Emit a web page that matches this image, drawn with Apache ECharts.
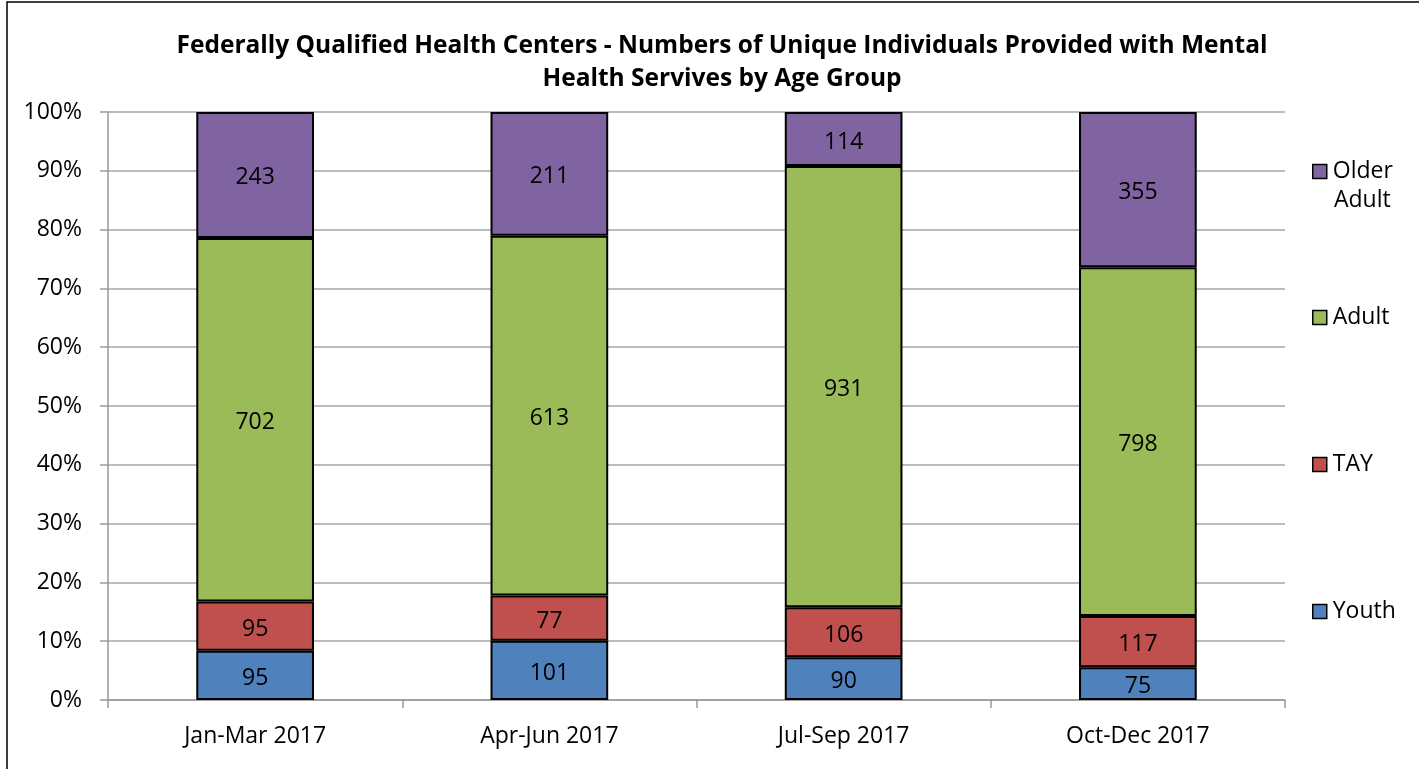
<!DOCTYPE html>
<html><head><meta charset="utf-8">
<script src="https://cdn.jsdelivr.net/npm/echarts@6/dist/echarts.min.js"></script>
<style>html,body{margin:0;padding:0;background:#fff}#c{width:1419px;height:769px}</style>
</head><body><div id="c"></div>
<script>
const categories = ['Jan-Mar 2017', 'Apr-Jun 2017', 'Jul-Sep 2017', 'Oct-Dec 2017'];
const youth = [95, 101, 90, 75];
const tay = [95, 77, 106, 117];
const adult = [702, 613, 931, 798];
const olderAdult = [243, 211, 114, 355];
const yTicks = ['0%','10%','20%','30%','40%','50%','60%','70%','80%','90%','100%'];

const FONT = '"Open Sans", Lato, sans-serif';
const totals = categories.map((_, i) => youth[i] + tay[i] + adult[i] + olderAdult[i]);
const pct = arr => arr.map((v, i) => ({ value: v / totals[i] * 100, raw: v }));

const colors = { 'Youth': '#4F81BD', 'TAY': '#C0504D', 'Adult': '#9BBB59', 'Older Adult': '#8064A2' };
const seriesDefs = [['Youth', youth], ['TAY', tay], ['Adult', adult], ['Older Adult', olderAdult]];

const chart = echarts.init(document.getElementById('c'), null, { renderer: 'canvas' });
const legendPos = { 'Older Adult': 160, 'Adult': 306, 'TAY': 453, 'Youth': 600 };
chart.setOption({
  animation: false,
  textStyle: { fontFamily: FONT },
  title: {
    text: 'Federally Qualified Health Centers - Numbers of Unique Individuals Provided with Mental\nHealth Servives by Age Group',
    left: 717, textAlign: 'center', top: 25,
    textStyle: { fontFamily: FONT, fontSize: 24.5, fontWeight: 'bold', color: '#000', lineHeight: 33 }
  },
  legend: Object.keys(legendPos).map(name => ({
    data: [name], left: 1312, top: legendPos[name], orient: 'vertical',
    icon: 'rect', itemWidth: 14, itemHeight: 14, itemGap: 0, selectedMode: false, padding: 0,
    formatter: n => n === 'Older Adult' ? 'Older' : n,
    textStyle: { fontFamily: FONT, fontSize: 23, color: '#000', lineHeight: 22, padding: [0, 0, 0, 1] },
    itemStyle: { borderColor: '#000', borderWidth: 1.5 }
  })),
  graphic: [
    { type: 'text', left: 1334, top: 189, style: { text: 'Adult', font: '23px ' + FONT, fill: '#000' } },
    { type: 'rect', shape: { x: 7, y: 2, width: 1500, height: 1000 }, style: { fill: 'none', stroke: '#000', lineWidth: 1.5 }, silent: true }
  ],
  grid: { left: 108, right: 134, top: 112, bottom: 69, containLabel: false },
  xAxis: {
    type: 'category', data: categories,
    axisLine: { lineStyle: { color: '#999', width: 1.5 } },
    axisTick: { show: true, length: 8, interval: 0, lineStyle: { color: '#999', width: 1.5 } },
    axisLabel: { fontFamily: FONT, fontSize: 23, color: '#000', margin: 25 },
    splitLine: { show: false }
  },
  yAxis: {
    type: 'value', min: 0, max: 100, interval: 10,
    axisLine: { show: true, lineStyle: { color: '#999', width: 1.5 } },
    axisTick: { show: true, length: 8, inside: false, lineStyle: { color: '#999', width: 1.5 } },
    axisLabel: { fontFamily: FONT, fontSize: 23, color: '#000', margin: 26, formatter: (v) => yTicks[Math.round(v / 10)] },
    splitLine: { show: true, lineStyle: { color: '#a6a6a6', width: 1.5 } }
  },
  series: seriesDefs.map(([name, arr]) => ({
    name, type: 'bar', stack: 'total', barWidth: '40%',
    data: pct(arr),
    itemStyle: { color: colors[name], borderColor: '#000', borderWidth: 2 },
    label: { show: true, position: 'inside', offset: [0, 3], fontFamily: FONT, fontSize: 23, color: '#000',
      formatter: p => String(p.data.raw) }
  }))
});
</script></body></html>
